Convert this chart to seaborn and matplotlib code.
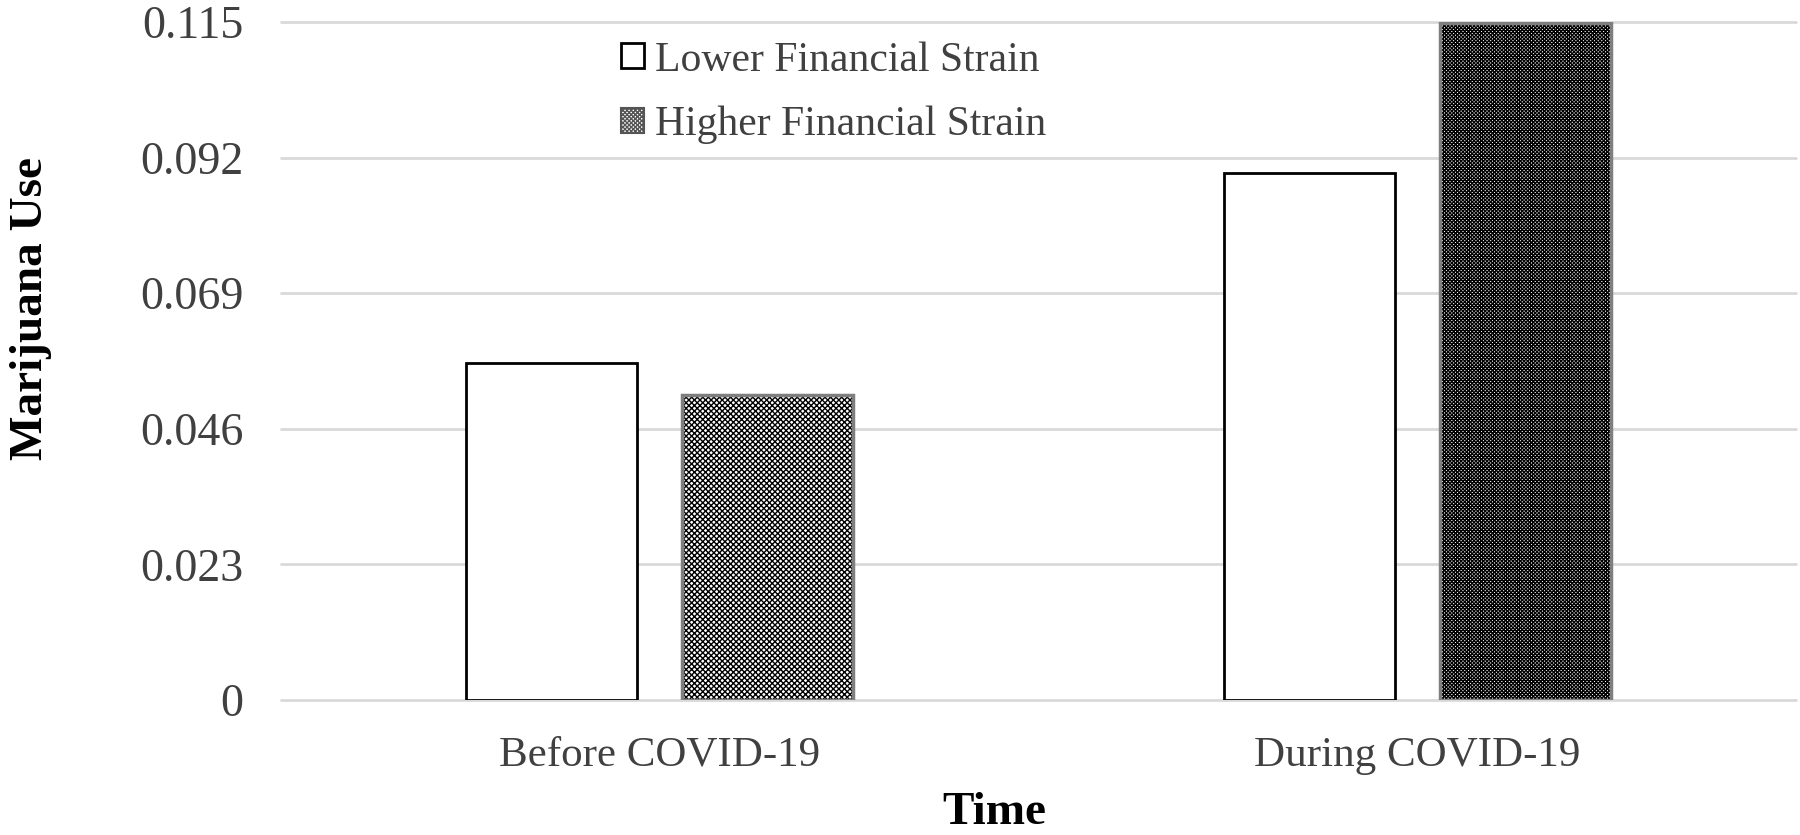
"""marijuana use by financial strain, before and during covid-19"""

import seaborn as sns
import matplotlib.pyplot as plt
import matplotlib.patches as mpatches
import pandas as pd

categories = ["Before COVID-19", "During COVID-19"]
strain_levels = ["Lower Financial Strain", "Higher Financial Strain"]
lower_strain = [0.0571, 0.0893]
higher_strain = [0.0517, 0.1148]
y_ticks = [0, 0.023, 0.046, 0.069, 0.092, 0.115]
y_tick_labels = ["0", "0.023", "0.046", "0.069", "0.092", "0.115"]

df = pd.DataFrame(
    {
        "Time": categories * 2,
        "Marijuana Use": lower_strain + higher_strain,
        "Strain": [strain_levels[0]] * 2 + [strain_levels[1]] * 2,
    }
)

sns.set_style("white")
plt.rcParams["font.family"] = ["Liberation Serif", "DejaVu Serif"]
plt.rcParams["hatch.linewidth"] = 1.0

fig = plt.figure(figsize=(18, 8.35), dpi=100)
ax = fig.add_axes([0.156, 0.1617, 0.842, 0.812])

sns.barplot(
    data=df,
    x="Time",
    y="Marijuana Use",
    hue="Strain",
    hue_order=strain_levels,
    order=categories,
    palette=["white", "white"],
    width=0.57,
    gap=0.21,
    edgecolor="black",
    linewidth=2,
    legend=False,
    ax=ax,
)

# lower strain: plain white boxes
for bar in ax.containers[0]:
    bar.set_facecolor("white")
    bar.set_edgecolor("black")
    bar.set_linewidth(2)

# higher strain: checker-like patterns, grey outline drawn on top
higher_styles = [("white", "black", "xxxxxx"), ("white", "black", "xxxxxxxxx")]
for bar, (face, hatch_col, hatch) in zip(ax.containers[1], higher_styles):
    bar.set_facecolor(face)
    bar.set_edgecolor(hatch_col)
    bar.set_hatch(hatch)
    bar.set_linewidth(0)
    ax.add_patch(
        mpatches.Rectangle(
            bar.get_xy(), bar.get_width(), bar.get_height(),
            fill=False, edgecolor="#7f7f7f", linewidth=2.5, zorder=bar.get_zorder() + 0.1,
        )
    )

ax.set_ylim(0, 0.115)
ax.set_yticks(y_ticks)
ax.set_yticklabels(y_tick_labels)
ax.yaxis.grid(True, color="#d9d9d9", linewidth=2)
ax.set_axisbelow(True)
for g in ax.yaxis.get_gridlines():
    g.set_clip_on(False)
for side in ["top", "right", "left", "bottom"]:
    ax.spines[side].set_visible(False)
ax.tick_params(axis="x", length=0, labelsize=31, labelcolor="#404040", pad=26)
ax.tick_params(axis="y", length=0, labelsize=33, labelcolor="#404040", pad=27)

ax.set_xlabel("Time", fontsize=34, fontweight="bold", color="black")
ax.set_ylabel("Marijuana Use", fontsize=34, fontweight="bold", color="black")
ax.xaxis.set_label_coords(0.471, -0.135)
ax.yaxis.set_label_coords(-0.151, 0.578)

handles = [
    mpatches.Patch(facecolor="white", edgecolor="black", linewidth=2),
    mpatches.Patch(facecolor="white", edgecolor="#555555", hatch="xxxxxxxx", linewidth=1.5),
]
ax.legend(
    handles,
    strain_levels,
    loc="upper left",
    bbox_to_anchor=(0.2, 1.027),
    frameon=False,
    fontsize=30,
    labelcolor="#404040",
    handlelength=0.55,
    handleheight=0.55,
    handletextpad=0.25,
    labelspacing=0.62,
)

fig.savefig("out.png", dpi=100)
